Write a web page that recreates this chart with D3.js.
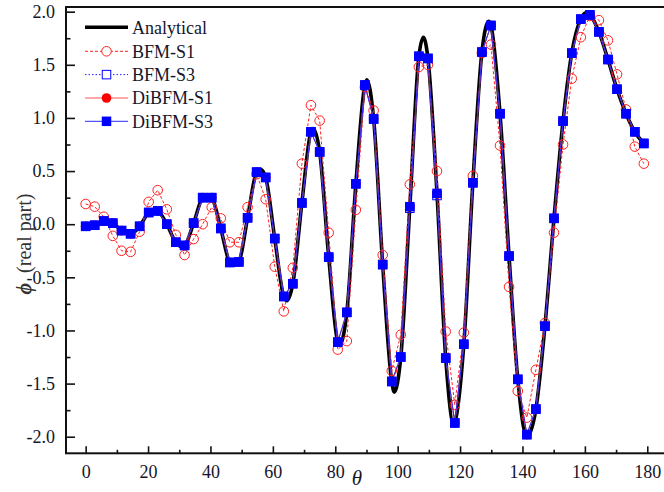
<!DOCTYPE html>
<html><head><meta charset="utf-8">
<script src="https://cdn.jsdelivr.net/npm/d3@7"></script>
<style>body{margin:0;background:#fff}svg{display:block}svg text{font-family:"Liberation Serif","Times New Roman",serif}</style>
</head><body><svg id="c" width="664" height="492"></svg>
<script>
// ---- data ----
const theta = [0,2.9,5.8,8.7,11.5,14.4,17.3,20.2,23.1,26.0,28.9,31.7,34.6,37.5,40.4,43.3,46.2,49.1,51.9,54.8,57.7,60.6,63.5,66.4,69.3,72.2,75.0,77.9,80.8,83.7,86.6,89.5,92.3,95.2,98.1,101.0,103.9,106.8,109.7,112.6,115.4,118.3,121.2,124.1,127.0,129.9,132.8,135.7,138.5,141.4,144.3,147.2,150.1,153.0,155.8,158.7,161.6,164.5,167.4,170.3,173.2,176.0,178.9];
const bfmS1 = [0.19,0.165,0.07,-0.11,-0.25,-0.26,-0.07,0.21,0.32,0.14,-0.1,-0.29,-0.14,0.0,0.16,0.055,-0.17,-0.17,0.16,0.47,0.235,-0.40,-0.82,-0.41,0.57,1.12,0.975,-0.08,-1.18,-1.10,0.135,1.29,1.07,-0.29,-1.38,-1.04,0.375,1.48,1.50,0.50,-1.01,-1.70,-1.02,0.455,1.61,1.69,0.74,-0.59,-1.57,-1.82,-1.37,-0.93,-0.08,0.75,1.37,1.76,1.96,1.92,1.73,1.41,1.08,0.73,0.57];
const bfmS3 = [-0.02,-0.01,0.03,0.01,-0.06,-0.09,-0.02,0.11,0.125,0.0,-0.17,-0.20,0.01,0.25,0.25,-0.04,-0.36,-0.355,0.06,0.49,0.44,-0.135,-0.68,-0.56,0.2,0.87,0.68,-0.31,-1.11,-0.83,0.38,1.31,0.99,-0.38,-1.48,-1.25,0.15,1.58,1.56,0.27,-1.26,-1.87,-1.13,0.39,1.62,1.87,1.04,-0.30,-1.46,-1.98,-1.74,-0.96,0.055,0.97,1.61,1.93,1.97,1.81,1.55,1.27,1.04,0.87,0.76];
const diS1 = [-0.02,-0.01,0.03,0.01,-0.06,-0.09,-0.02,0.11,0.125,0.0,-0.17,-0.20,0.01,0.25,0.25,-0.04,-0.36,-0.355,0.06,0.49,0.44,-0.135,-0.68,-0.56,0.2,0.87,0.68,-0.31,-1.11,-0.83,0.38,1.31,0.99,-0.38,-1.48,-1.25,0.165,1.58,1.56,0.29,-1.26,-1.87,-1.13,0.39,1.62,1.87,1.04,-0.30,-1.46,-1.98,-1.74,-0.96,0.055,0.97,1.61,1.93,1.97,1.81,1.55,1.27,1.04,0.87,0.76];
const diS3 = [-0.02,-0.01,0.03,0.01,-0.06,-0.09,-0.02,0.11,0.125,0.0,-0.17,-0.20,0.01,0.25,0.25,-0.04,-0.36,-0.355,0.06,0.49,0.44,-0.135,-0.68,-0.56,0.2,0.87,0.68,-0.31,-1.11,-0.83,0.38,1.31,0.99,-0.38,-1.48,-1.25,0.165,1.58,1.56,0.29,-1.26,-1.87,-1.13,0.39,1.62,1.87,1.04,-0.30,-1.46,-1.98,-1.74,-0.96,0.055,0.97,1.61,1.93,1.97,1.81,1.55,1.27,1.04,0.87,0.76];
const anaTheta = [0,2.9,5.8,8.7,11.5,14.4,17.3,20.2,21.8,23.1,26.0,28.9,30.5,31.7,34.6,37.5,39.0,40.4,43.3,46.2,47.6,49.1,51.9,54.8,56.1,57.7,60.6,63.5,64.5,66.4,69.3,72.2,72.9,75.0,77.9,80.8,81.3,83.7,86.6,89.5,90.1,92.3,95.2,98.1,98.9,101.0,103.9,106.8,108.25,109.7,112.6,115.4,118.0,118.3,121.2,124.1,127.0,129.2,129.9,132.8,135.7,138.5,141.4,144.3,147.2,150.1,153.0,155.8,158.7,160.3,161.6,164.5,167.4,170.3,173.2,176.0,178.9];
const anaPhi = [-0.02,-0.01,0.03,0.01,-0.06,-0.09,-0.02,0.11,0.13,0.125,0.0,-0.17,-0.21,-0.20,0.01,0.25,0.27,0.25,-0.04,-0.36,-0.385,-0.355,0.06,0.49,0.515,0.44,-0.135,-0.68,-0.72,-0.56,0.2,0.87,0.9,0.68,-0.31,-1.11,-1.14,-0.83,0.38,1.31,1.36,0.99,-0.38,-1.48,-1.58,-1.25,0.165,1.58,1.76,1.56,0.29,-1.26,-1.89,-1.87,-1.13,0.39,1.62,1.91,1.87,1.04,-0.30,-1.46,-2.0,-1.74,-0.96,0.055,0.97,1.61,1.93,1.99,1.97,1.81,1.55,1.27,1.04,0.87,0.76];
const xTicks = [0,20,40,60,80,100,120,140,160,180];
const xMinor = [10,30,50,70,90,110,130,150,170];
const yTicks = [-2.0,-1.5,-1.0,-0.5,0.0,0.5,1.0,1.5,2.0];
const yMinor = [-1.75,-1.25,-0.75,-0.25,0.25,0.75,1.25,1.75];
const legendNames = ["Analytical","BFM-S1","BFM-S3","DiBFM-S1","DiBFM-S3"];

// ---- chart ----
const svg = d3.select("#c");
const L = 66, R = 666, T = 7, B = 453.3;
const x = d3.scaleLinear().domain([-6.3, 186]).range([L, R]);
const y = d3.scaleLinear().domain([-2.156, 2.044]).range([B, T]);
const font = '"Liberation Serif","Times New Roman",serif';
const txt = "#15152a";

const pts = a => theta.map((t,i)=>[t,a[i]]);
const lin = d3.line().x(d=>x(d[0])).y(d=>y(d[1]));

// analytical
svg.append("path").datum(anaTheta.map((t,i)=>[t,anaPhi[i]]))
  .attr("d", d3.line().x(d=>x(d[0])).y(d=>y(d[1])).curve(d3.curveMonotoneX))
  .attr("fill","none").attr("stroke","#000").attr("stroke-width",3.6).attr("stroke-linejoin","round");

// BFM-S1
svg.append("path").datum(pts(bfmS1)).attr("d",lin).attr("fill","none")
  .attr("stroke","#ff2020").attr("stroke-width",1).attr("stroke-dasharray","3,2");
// BFM-S3
svg.append("path").datum(pts(bfmS3)).attr("d",lin).attr("fill","none")
  .attr("stroke","#2020ff").attr("stroke-width",1).attr("stroke-dasharray","1.5,2");
// DiBFM-S1
svg.append("path").datum(pts(diS1)).attr("d",lin).attr("fill","none")
  .attr("stroke","#ff5050").attr("stroke-width",1);
// DiBFM-S3
svg.append("path").datum(pts(diS3)).attr("d",lin).attr("fill","none")
  .attr("stroke","#2a2aff").attr("stroke-width",1);

const ms = 9.5, cr = 4.8;
svg.append("g").selectAll("circle").data(pts(bfmS1)).join("circle")
  .attr("cx",d=>x(d[0])).attr("cy",d=>y(d[1])).attr("r",cr)
  .attr("fill","none").attr("stroke","#ff2020").attr("stroke-width",1);
svg.append("g").selectAll("circle").data(pts(diS1)).join("circle")
  .attr("cx",d=>x(d[0])).attr("cy",d=>y(d[1])).attr("r",cr).attr("fill","#ff0000");
svg.append("g").selectAll("rect").data(pts(diS3)).join("rect")
  .attr("x",d=>x(d[0])-ms/2).attr("y",d=>y(d[1])-ms/2).attr("width",ms).attr("height",ms).attr("fill","#0000ff");
svg.append("g").selectAll("rect").data(pts(bfmS3)).join("rect")
  .attr("x",d=>x(d[0])-ms/2+0.5).attr("y",d=>y(d[1])-ms/2+0.5).attr("width",ms-1).attr("height",ms-1)
  .attr("fill","none").attr("stroke","#0000ff").attr("stroke-width",1);

// frame
svg.append("rect").attr("x",L).attr("y",T).attr("width",R-L).attr("height",B-T)
  .attr("fill","none").attr("stroke","#111").attr("stroke-width",2);

// x axis (ticks inward)
const xa = svg.append("g").attr("transform",`translate(0,${B})`)
  .call(d3.axisBottom(x).tickValues(xTicks).tickSizeInner(-7).tickSizeOuter(0).tickPadding(12).tickFormat(d=>String(d)));
xa.attr("font-family",null);
xa.select(".domain").remove();
xa.selectAll("line").attr("stroke","#111").attr("stroke-width",1.6);
xa.selectAll("text").style("font-family",font).style("font-size","18px").attr("fill",txt);
const xm = svg.append("g").attr("transform",`translate(0,${B})`)
  .call(d3.axisBottom(x).tickValues(xMinor).tickSizeInner(-3.5).tickSizeOuter(0).tickFormat(""));
xm.select(".domain").remove();
xm.selectAll("line").attr("stroke","#111").attr("stroke-width",1.6);

// y axis
const ya = svg.append("g").attr("transform",`translate(${L},0)`)
  .call(d3.axisLeft(y).tickValues(yTicks).tickSizeInner(-9).tickSizeOuter(0).tickPadding(11).tickFormat(d=>d.toFixed(1)));
ya.attr("font-family",null);
ya.select(".domain").remove();
ya.selectAll("line").attr("stroke","#111").attr("stroke-width",1.6);
ya.selectAll("text").style("font-family",font).style("font-size","18px").attr("fill",txt);
const ym = svg.append("g").attr("transform",`translate(${L},0)`)
  .call(d3.axisLeft(y).tickValues(yMinor).tickSizeInner(-4.5).tickSizeOuter(0).tickFormat(""));
ym.select(".domain").remove();
ym.selectAll("line").attr("stroke","#111").attr("stroke-width",1.6);

// axis titles
svg.append("text").attr("x",357).attr("y",485).attr("text-anchor","middle")
  .style("font-family",font).style("font-size","21px").style("font-style","italic").attr("fill",txt).text("θ");
const yl = svg.append("text").attr("transform","translate(31,244) rotate(-90)").attr("text-anchor","middle")
  .style("font-family",font).style("font-size","20px").style("white-space","pre").attr("fill","#333");
yl.append("tspan").style("font-style","italic").style("font-weight","bold").text("ϕ");
yl.append("tspan").text("\u00a0\u00a0(real part)");

// legend
const lg = svg.append("g");
const rows = [27.3, 51.3, 74.6, 98, 121.3];
const lx1 = 85, lx2 = 128, mx = 106.5;
const styles = [
  {stroke:"#000", w:3.6, dash:null},
  {stroke:"#ff2020", w:1, dash:"3,2"},
  {stroke:"#2020ff", w:1, dash:"1.5,2"},
  {stroke:"#ff5050", w:1, dash:null},
  {stroke:"#2a2aff", w:1, dash:null}];
legendNames.forEach((n,i)=>{
  const yy = rows[i], s = styles[i];
  lg.append("line").attr("x1",lx1).attr("x2",lx2).attr("y1",yy).attr("y2",yy)
    .attr("stroke",s.stroke).attr("stroke-width",s.w).attr("stroke-dasharray",s.dash);
  if(i===1) lg.append("circle").attr("cx",mx).attr("cy",yy).attr("r",cr).attr("fill","#fff").attr("stroke","#ff2020");
  if(i===2) lg.append("rect").attr("x",mx-ms/2+0.5).attr("y",yy-ms/2+0.5).attr("width",ms-1).attr("height",ms-1).attr("fill","#fff").attr("stroke","#0000ff");
  if(i===3) lg.append("circle").attr("cx",mx).attr("cy",yy).attr("r",cr).attr("fill","#ff0000");
  if(i===4) lg.append("rect").attr("x",mx-ms/2).attr("y",yy-ms/2).attr("width",ms).attr("height",ms).attr("fill","#0000ff");
  lg.append("text").attr("x",132).attr("y",yy).attr("dy","0.35em")
    .style("font-family",font).style("font-size","18px").attr("fill",txt).text(n);
});
</script></body></html>
